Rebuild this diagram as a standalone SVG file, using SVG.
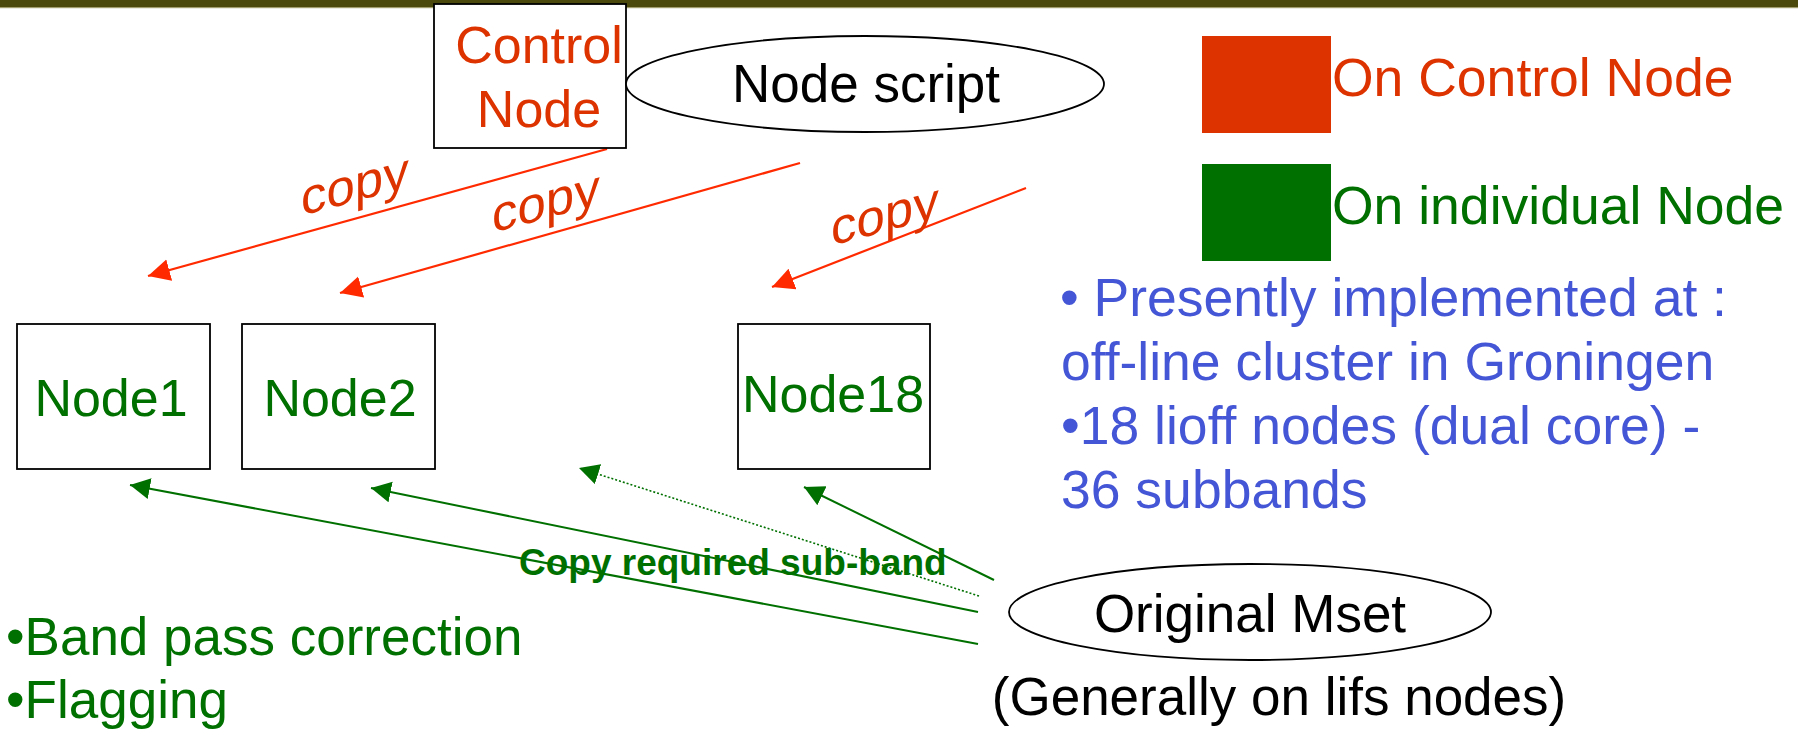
<svg xmlns="http://www.w3.org/2000/svg" width="1798" height="731" viewBox="0 0 1798 731">
<style>
text{font-family:"Liberation Sans",Arial,sans-serif;}
.box{fill:#fff;stroke:#000;stroke-width:1.8;}
.red{fill:#dd3300;}
.grn{fill:#007000;}
.blu{fill:#4455d6;}
.blk{fill:#000;}
.big{font-size:53px;}
.big2{font-size:53.5px;}
.cp{font-size:51px;fill:#dd3300;}
.rl{stroke:#ff2a00;stroke-width:2.2;fill:none;marker-end:url(#ah-red);}
.gl{stroke:#007000;stroke-width:2;fill:none;marker-end:url(#ah-grn);}
.gd{stroke:#007000;stroke-width:1.6;fill:none;stroke-dasharray:2 2;marker-end:url(#ah-grn);}
</style>
<defs>
<marker id="ah-red" markerUnits="userSpaceOnUse" markerWidth="24" markerHeight="24" refX="22" refY="11" orient="auto">
<path d="M0,0 L22,11 L0,22 z" fill="#ff2a00"/>
</marker>
<marker id="ah-grn" markerUnits="userSpaceOnUse" markerWidth="22" markerHeight="22" refX="20" refY="10.5" orient="auto">
<path d="M0,0 L20,10.5 L0,21 z" fill="#007000"/>
</marker>
</defs>
<rect x="0" y="0" width="1798" height="7" fill="#4b490b"/>
<rect x="0" y="7" width="1798" height="1.2" fill="#a19d6c"/>

<g id="connectors">
<line class="rl" x1="607" y1="149" x2="148" y2="276"/>
<line class="rl" x1="800" y1="163" x2="340" y2="293"/>
<line class="rl" x1="1026" y1="188" x2="772" y2="287"/>
<line class="gl" x1="978" y1="644" x2="130" y2="485"/>
<line class="gl" x1="978" y1="612" x2="371" y2="488"/>
<line class="gd" x1="979" y1="596" x2="579" y2="468"/>
<line class="gl" x1="994" y1="580" x2="804" y2="487"/>
<text class="cp" transform="translate(301,216) skewY(-15)">copy</text>
<text class="cp" transform="translate(492,233) skewY(-15)">copy</text>
<text class="cp" transform="translate(831,246) skewY(-15)">copy</text>
<text class="grn" font-size="37" font-weight="bold" x="519" y="575">Copy required sub-band</text>
</g>

<g id="control-node">
<rect class="box" x="434" y="4" width="192" height="144"/>
<text class="red" font-size="52" text-anchor="middle" x="539" y="63">Control</text>
<text class="red" font-size="52" text-anchor="middle" x="539" y="127">Node</text>
</g>

<g id="node-script">
<ellipse class="box" cx="865" cy="84" rx="239" ry="48"/>
<text class="blk big" text-anchor="middle" x="866" y="102">Node script</text>
</g>

<g id="legend">
<rect x="1202" y="36" width="129" height="97" fill="#dd3300"/>
<text class="red big2" x="1332" y="96">On Control Node</text>
<rect x="1202" y="164" width="129" height="97" fill="#007000"/>
<text class="grn big2" x="1332" y="224">On individual Node</text>
</g>

<g id="info">
<text class="blu big2" x="1060" y="316">• Presently implemented at :</text>
<text class="blu big2" x="1061" y="380">off-line cluster in Groningen</text>
<text class="blu big2" x="1061" y="444">•18 lioff nodes (dual core) -</text>
<text class="blu big2" x="1061" y="508">36 subbands</text>
</g>

<g id="node1">
<rect class="box" x="17" y="324" width="193" height="145"/>
<text class="grn" font-size="52" text-anchor="middle" x="111" y="416">Node1</text>
</g>
<g id="node2">
<rect class="box" x="242" y="324" width="193" height="145"/>
<text class="grn" font-size="52" text-anchor="middle" x="340" y="416">Node2</text>
</g>
<g id="node18">
<rect class="box" x="738" y="324" width="192" height="145"/>
<text class="grn" font-size="52" text-anchor="middle" x="833" y="412">Node18</text>
</g>

<g id="tasks">
<text class="grn big" x="6" y="655">•Band pass correction</text>
<text class="grn big" x="6" y="718">•Flagging</text>
</g>

<g id="original-mset">
<ellipse class="box" cx="1250" cy="612" rx="241" ry="48"/>
<text class="blk big" text-anchor="middle" x="1250" y="632">Original Mset</text>
<text class="blk big" text-anchor="middle" x="1279" y="715">(Generally on lifs nodes)</text>
</g>
</svg>
